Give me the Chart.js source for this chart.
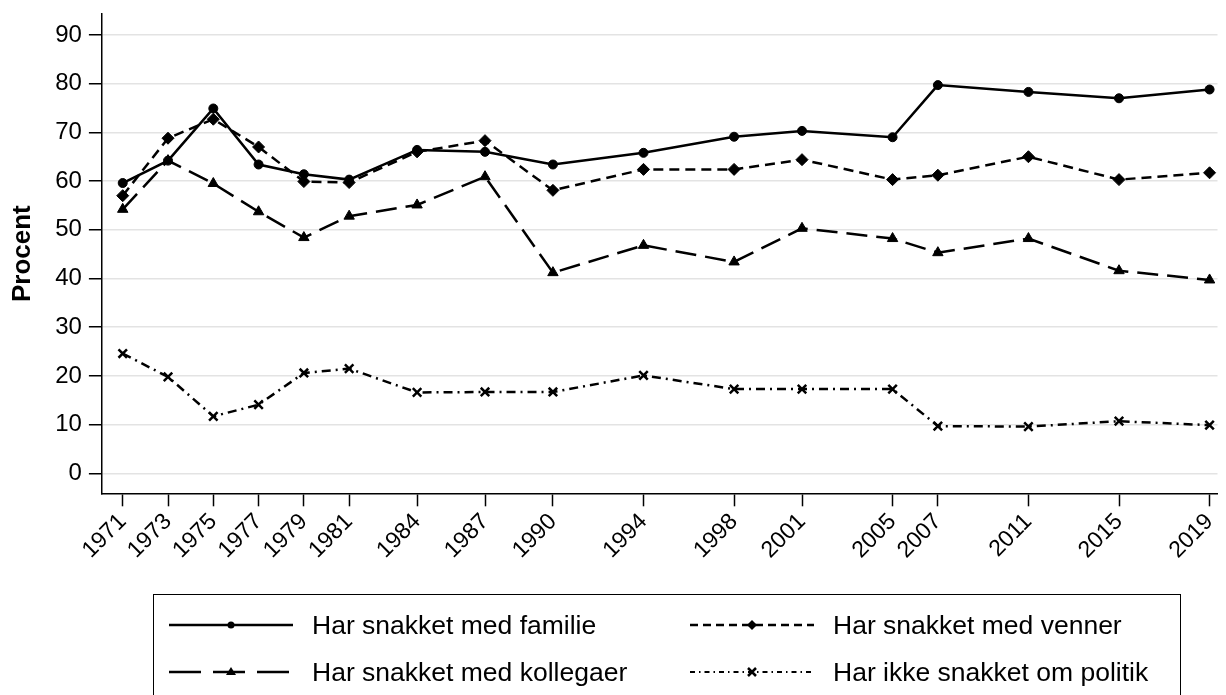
<!DOCTYPE html>
<html>
<head>
<meta charset="utf-8">
<script src="https://cdn.jsdelivr.net/npm/chart.js@4"></script>
<style>
    body { margin: 0; background: #fff; }
    #wrap { position: relative; width: 1226px; height: 695px; overflow: hidden; }
    #legend {
        position: absolute; left: 153px; top: 594px; width: 1028px; height: 112px;
        border: 1.5px solid #000; box-sizing: border-box;
        font-family: "Liberation Sans", Arial, sans-serif; font-size: 26.5px; color: #000;
    }
    .item { position: absolute; height: 30px; display: flex; align-items: center; white-space: nowrap; }
    .item svg { margin-right: 19px; }
</style>
</head>
<body>
<div id="wrap">
    <canvas id="myChart" width="1226" height="695"></canvas>
    <div id="legend"></div>
</div>
<script>
let years = [1971, 1973, 1975, 1977, 1979, 1981, 1984, 1987, 1990, 1994, 1998, 2001, 2005, 2007, 2011, 2015, 2019];
let familie = [59.6, 64.2, 74.9, 63.4, 61.4, 60.3, 66.4, 66.0, 63.4, 65.8, 69.1, 70.3, 69.0, 79.7, 78.3, 77.0, 78.8];
let venner = [57.0, 68.8, 72.7, 67.0, 59.9, 59.7, 66.0, 68.3, 58.1, 62.4, 62.4, 64.4, 60.3, 61.2, 65.0, 60.3, 61.7];
let kollegaer = [54.2, 64.2, 59.5, 53.7, 48.4, 52.8, 55.1, 60.9, 41.2, 46.8, 43.4, 50.3, 48.2, 45.3, 48.2, 41.6, 39.7];
let politik = [24.6, 19.8, 11.7, 14.1, 20.6, 21.5, 16.6, 16.7, 16.7, 20.1, 17.3, 17.3, 17.3, 9.7, 9.6, 10.7, 9.9];
let yTicks = [0, 10, 20, 30, 40, 50, 60, 70, 80, 90];
let labels = ["Har snakket med familie", "Har snakket med venner", "Har snakket med kollegaer", "Har ikke snakket om politik"];

function toPoints(vals) {
    return years.map((y, i) => ({ x: y, y: vals[i] }));
}

// felles stil for alle seriene
function serie(label, vals, dash, style, radius) {
    return {
        label: label,
        data: toPoints(vals),
        borderColor: "#000",
        backgroundColor: "#000",
        borderWidth: 2.5,
        borderDash: dash,
        pointStyle: style,
        pointRadius: radius,
        pointBorderWidth: style === "crossRot" ? 2.5 : 1,
        pointBackgroundColor: "#000",
        pointBorderColor: "#000",
        tension: 0,
    };
}

let font = "'Liberation Sans', Arial, sans-serif";

let chart = new Chart("myChart", {
    type: "line",
    data: {
        datasets: [
            serie(labels[0], familie, [], "circle", 4.5),
            serie(labels[1], venner, [10, 6], "rectRot", 6),
            serie(labels[2], kollegaer, [21, 9], "triangle", 6),
            serie(labels[3], politik, [9, 5, 2, 5], "crossRot", 6),
        ],
    },
    options: {
        responsive: false,
        animation: false,
        devicePixelRatio: 1,
        layout: { padding: { left: 5, right: -10, top: 14, bottom: 129 } },
        plugins: {
            legend: { display: false },
            tooltip: { enabled: false },
        },
        scales: {
            x: {
                type: "linear",
                min: 1970.08,
                max: 2019.35,
                afterBuildTicks: (s) => { s.ticks = years.map((v) => ({ value: v })); },
                afterFit: (s) => { s.paddingLeft = 0; s.paddingRight = 0; },
                ticks: {
                    autoSkip: false,
                    minRotation: 45,
                    maxRotation: 45,
                    padding: 2,
                    color: "#000",
                    font: { family: font, size: 23 },
                    callback: (v) => String(v),
                },
                grid: { drawOnChartArea: false, drawTicks: true, tickLength: 13, tickColor: "#000", tickWidth: 1.5 },
                border: { color: "#000", width: 1.5 },
            },
            y: {
                min: -4.1,
                max: 94.3,
                afterBuildTicks: (s) => { s.ticks = yTicks.map((v) => ({ value: v })); },
                afterFit: (s) => { s.paddingTop = 0; s.paddingBottom = 0; },
                ticks: { padding: 7, color: "#000", font: { family: font, size: 24 } },
                grid: { color: "#e3e3e3", lineWidth: 1.5, tickColor: "#000", tickLength: 13, tickWidth: 1.5 },
                border: { color: "#000", width: 1.5 },
                title: {
                    display: true,
                    text: "Procent",
                    color: "#000",
                    font: { family: font, size: 26, weight: "bold" },
                    padding: { top: 2, bottom: 10 },
                },
            },
        },
    },
});

// legenden tegnes som html med svg-linjer
let samples = [
    '<line x1="0" y1="10" x2="124" y2="10" stroke="#000" stroke-width="2.5"/><circle cx="62" cy="10" r="3.5" fill="#000"/>',
    '<line x1="0" y1="10" x2="124" y2="10" stroke="#000" stroke-width="2.5" stroke-dasharray="8 5"/><path d="M62 5 L67 10 L62 15 L57 10 Z" fill="#000"/>',
    '<line x1="0" y1="10" x2="124" y2="10" stroke="#000" stroke-width="2.5" stroke-dasharray="32 12"/><path d="M62 5 L67 13 L57 13 Z" fill="#000"/>',
    '<line x1="0" y1="10" x2="124" y2="10" stroke="#000" stroke-width="2" stroke-dasharray="5 4 1.5 4"/><path d="M58 6 L66 14 M66 6 L58 14" stroke="#000" stroke-width="2.5"/>',
];
let pos = [[15, 15], [536, 15], [15, 62], [536, 62]];
let legend = document.getElementById("legend");
labels.forEach((txt, i) => {
    let d = document.createElement("div");
    d.className = "item";
    d.style.left = pos[i][0] + "px";
    d.style.top = pos[i][1] + "px";
    d.innerHTML = '<svg width="124" height="20">' + samples[i] + "</svg><span>" + txt + "</span>";
    legend.appendChild(d);
});
</script>
</body>
</html>
